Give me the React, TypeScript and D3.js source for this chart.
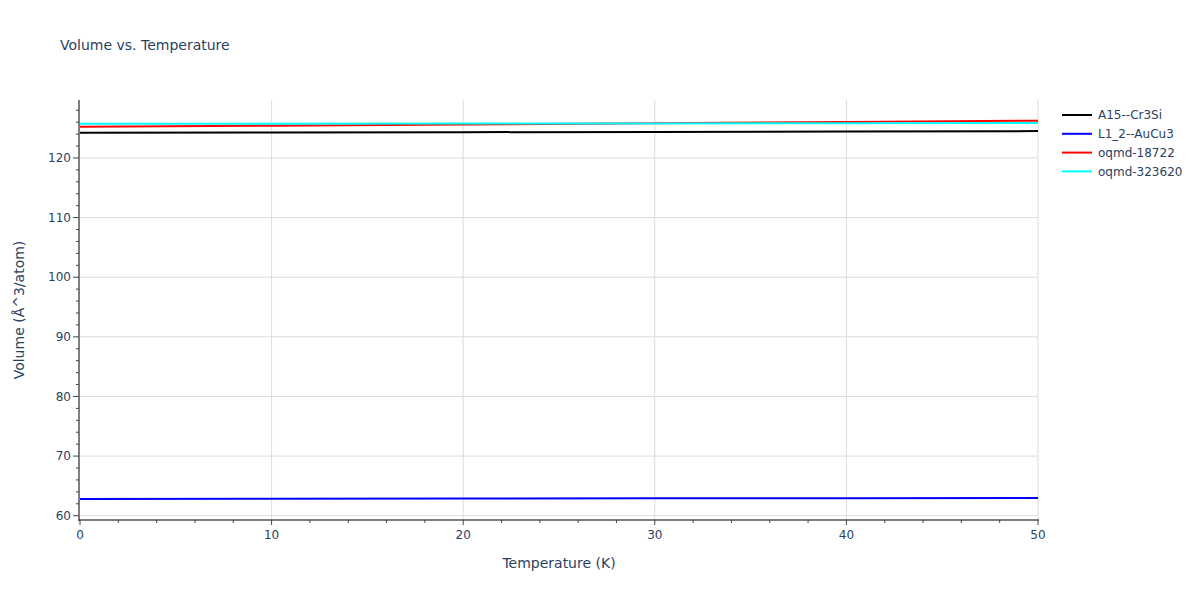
import React from 'react'
import * as d3 from 'd3'

const temps = [0, 10, 20, 30, 40, 50]
const seriesNames = ['A15--Cr3Si', 'L1_2--AuCu3', 'oqmd-18722', 'oqmd-323620']
const seriesColors = ['#000000', '#0000ff', '#ff0000', '#00ffff']
const cr3si = [124.24, 124.28, 124.32, 124.37, 124.43, 124.5]
const aucu3 = [62.82, 62.85, 62.88, 62.91, 62.94, 62.98]
const oqmd18722 = [125.24, 125.42, 125.62, 125.83, 126.04, 126.25]
const oqmd323620 = [125.72, 125.74, 125.76, 125.79, 125.82, 125.86]
const xTicks = [0, 10, 20, 30, 40, 50]
const yTicks = [60, 70, 80, 90, 100, 110, 120]

const W = 1200
const H = 600
const margin = { top: 100, right: 162, bottom: 80, left: 80 }
const font = '"DejaVu Sans", verdana, arial, sans-serif'
const textColor = '#2a3f5f'

const App = () => {
  const x = d3.scaleLinear().domain([0, 50]).range([margin.left, W - margin.right])
  const y = d3.scaleLinear().domain([59.28, 129.72]).range([H - margin.bottom, margin.top])
  const allSeries = [cr3si, aucu3, oqmd18722, oqmd323620]
  const line = d3
    .line<number>()
    .x((_, i) => x(temps[i]))
    .y((d) => y(d))

  const xMinor = d3.range(0, 50.01, 2).filter((v) => v % 10 !== 0)
  const yMinor = d3.range(60, 129.7, 2).filter((v) => v % 10 !== 0)
  const bottom = H - margin.bottom

  return (
    <svg width={W} height={H} style={{ position: 'absolute', left: 0, top: 0, fontFamily: font }}>
      <rect width={W} height={H} fill="#fff" />
      <text x={60} y={50} fontSize={14} fill={textColor}>
        Volume vs. Temperature
      </text>

      {/* grid */}
      {xTicks
        .filter((t) => t !== 0)
        .map((t) => (
          <line key={'gx' + t} x1={x(t)} x2={x(t)} y1={margin.top} y2={bottom} stroke="#dcdcdc" strokeWidth={1} />
        ))}
      {yTicks.map((t) => (
        <line key={'gy' + t} x1={margin.left} x2={W - margin.right} y1={y(t)} y2={y(t)} stroke="#dcdcdc" strokeWidth={1} />
      ))}

      {/* series */}
      {allSeries.map((s, i) => (
        <path key={seriesNames[i]} d={line(s)} fill="none" stroke={seriesColors[i]} strokeWidth={2} />
      ))}

      {/* x axis */}
      <line x1={margin.left - 1} x2={W - margin.right + 1} y1={bottom} y2={bottom} stroke="#000" strokeWidth={1} />
      {xTicks.map((t) => (
        <g key={'xt' + t}>
          <line x1={x(t)} x2={x(t)} y1={bottom} y2={bottom + 5} stroke="#444" />
          <text x={x(t)} y={bottom + 19} fontSize={12} fill={textColor} textAnchor="middle">
            {t}
          </text>
        </g>
      ))}
      {xMinor.map((t) => (
        <line key={'xm' + t} x1={x(t)} x2={x(t)} y1={bottom} y2={bottom + 3} stroke="#444" />
      ))}
      <text x={(margin.left + W - margin.right) / 2} y={568} fontSize={14} fill={textColor} textAnchor="middle">
        Temperature (K)
      </text>

      {/* y axis */}
      <line x1={margin.left - 1} x2={margin.left - 1} y1={margin.top} y2={bottom + 1} stroke="#000" strokeWidth={1} />
      {yTicks.map((t) => (
        <g key={'yt' + t}>
          <line x1={margin.left - 1} x2={margin.left - 7} y1={y(t)} y2={y(t)} stroke="#444" />
          <text x={margin.left - 9} y={y(t)} dy="0.35em" fontSize={12} fill={textColor} textAnchor="end">
            {t}
          </text>
        </g>
      ))}
      {yMinor.map((t) => (
        <line key={'ym' + t} x1={margin.left - 1} x2={margin.left - 4} y1={y(t)} y2={y(t)} stroke="#444" />
      ))}
      <text
        transform={`translate(24,${(margin.top + bottom) / 2}) rotate(-90)`}
        fontSize={14}
        fill={textColor}
        textAnchor="middle"
      >
        Volume (Å^3/atom)
      </text>

      {/* legend */}
      {seriesNames.map((n, i) => (
        <g key={'lg' + n} transform={`translate(1062,${115 + i * 18.8})`}>
          <line x1={0} x2={30} y1={0} y2={0} stroke={seriesColors[i]} strokeWidth={2} />
          <text x={36} y={0} dy="0.35em" fontSize={12} fill={textColor}>
            {n}
          </text>
        </g>
      ))}
    </svg>
  )
}

export default App
